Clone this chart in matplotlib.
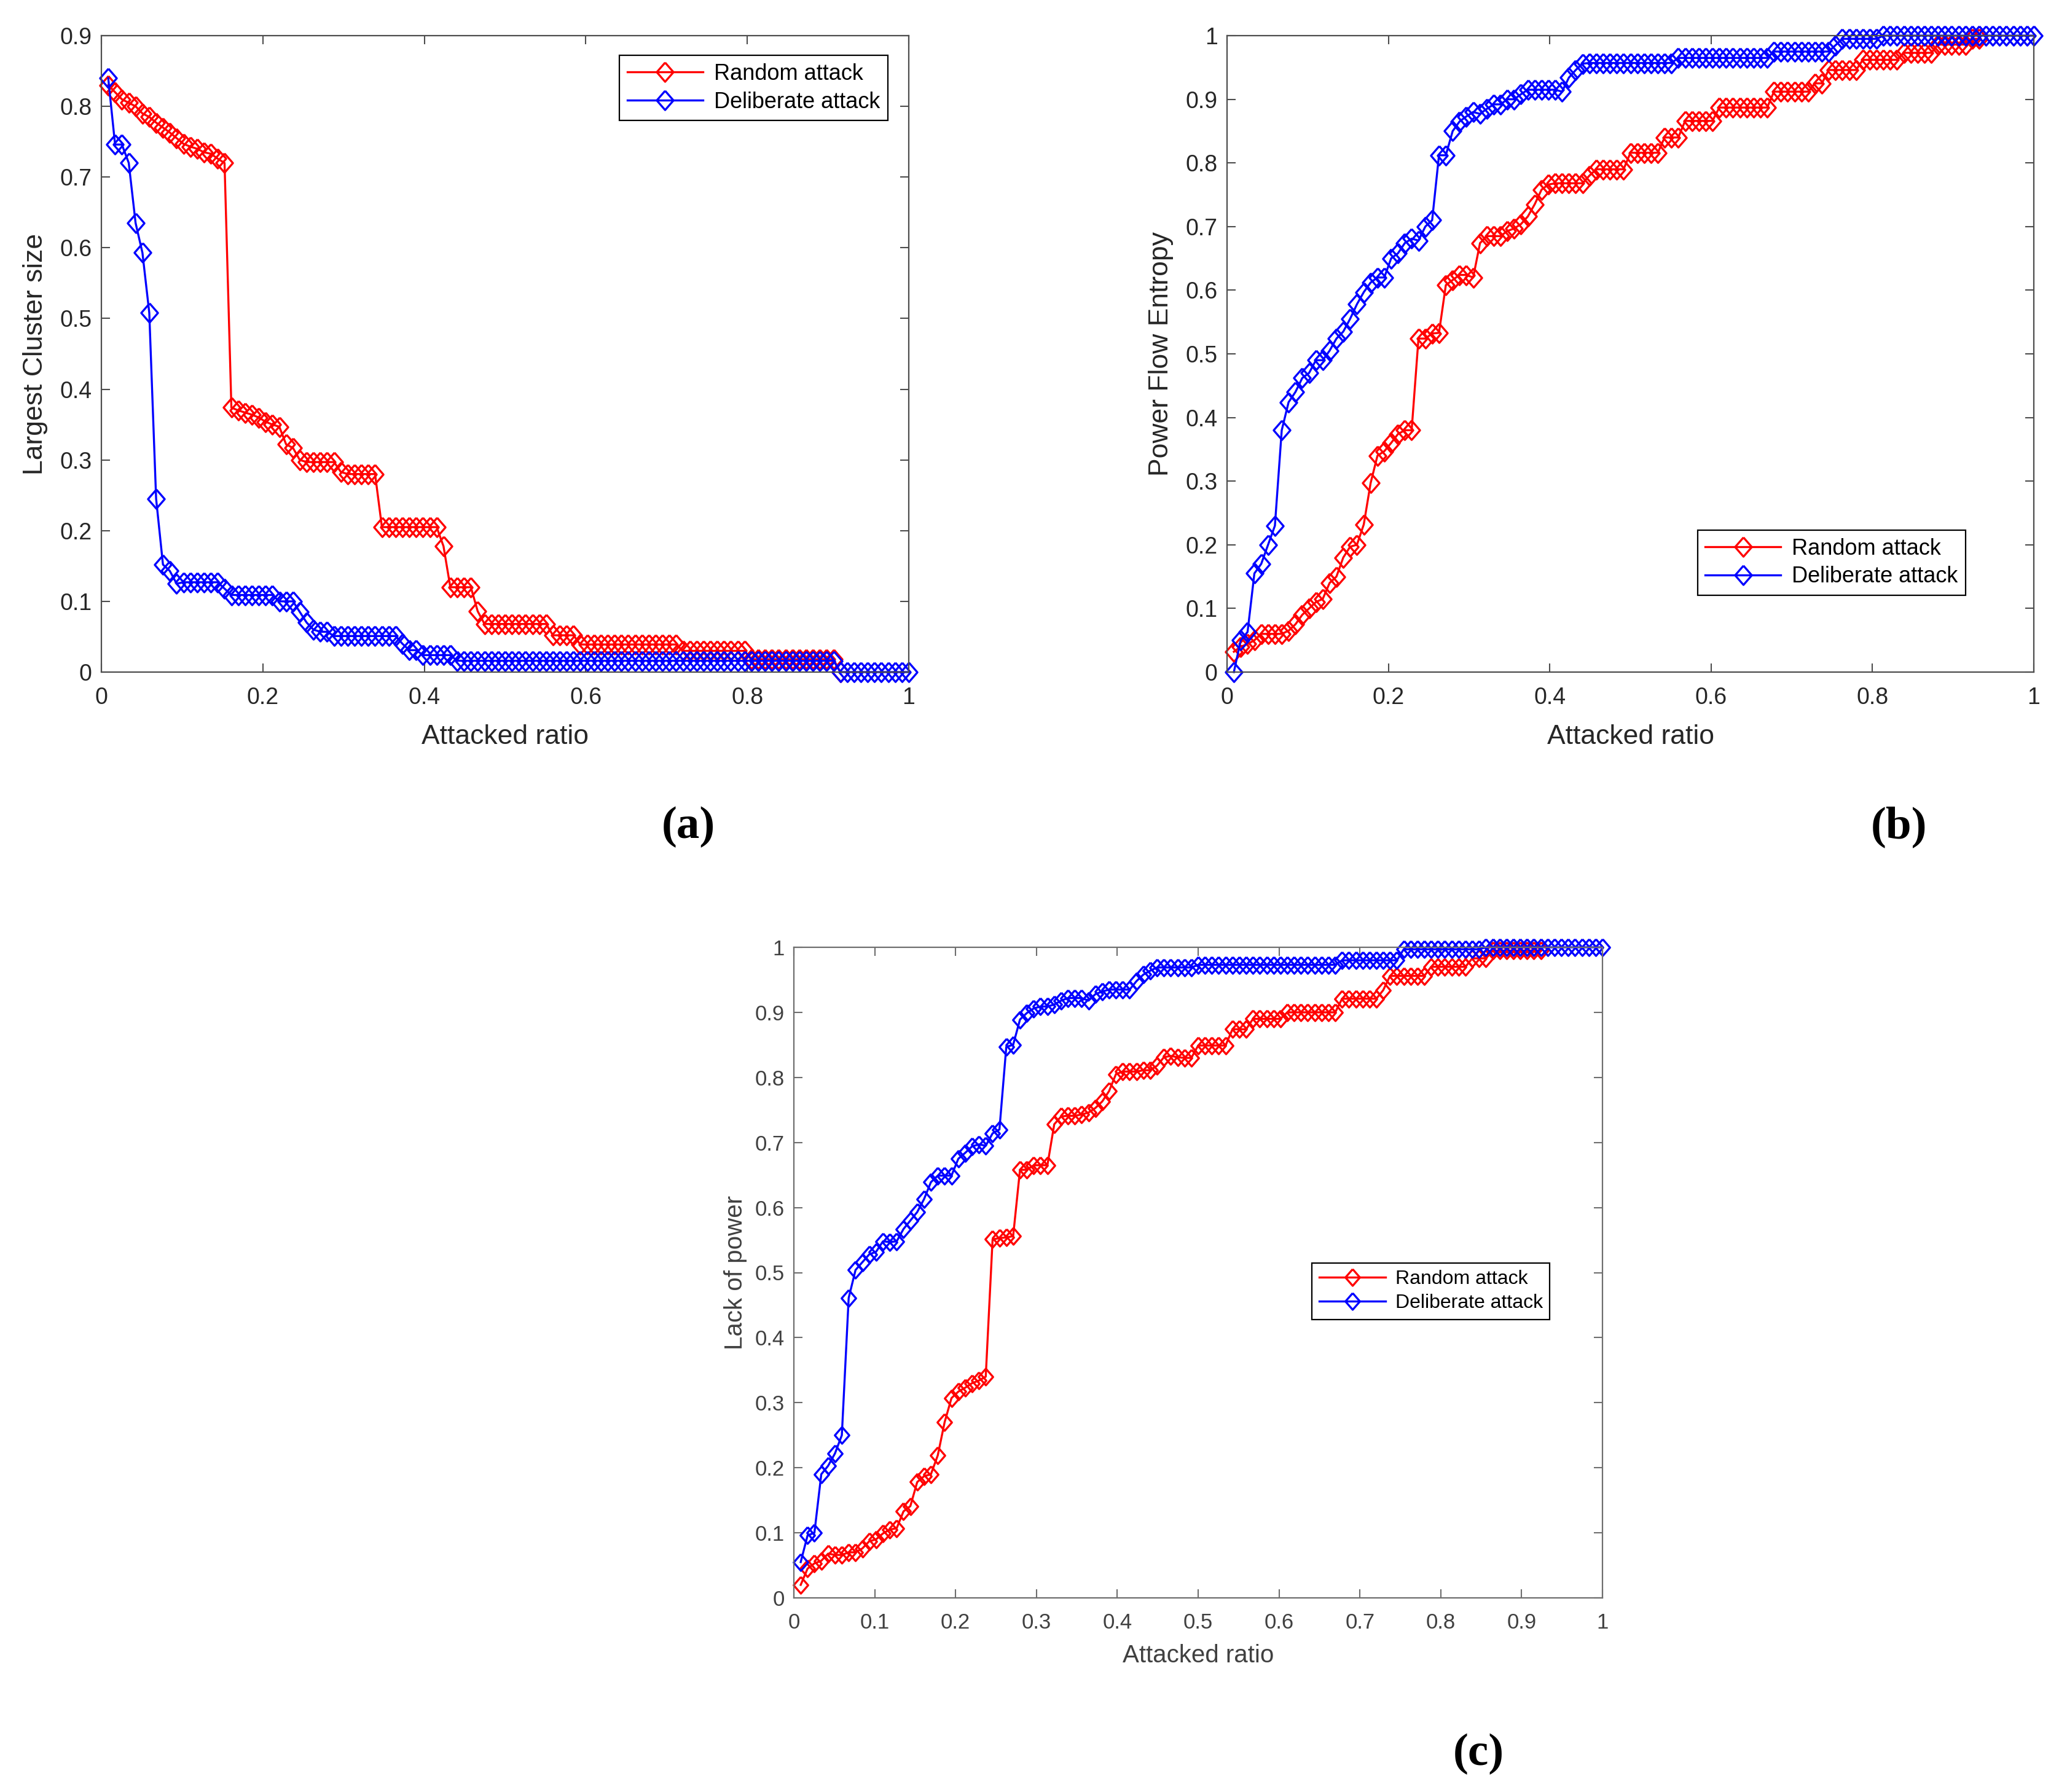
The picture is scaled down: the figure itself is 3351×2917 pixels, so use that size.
import numpy as np
import matplotlib
matplotlib.use("Agg")
import matplotlib.pyplot as plt
from matplotlib.ticker import FormatStrFormatter

plt.rcParams['font.family'] = ['Liberation Sans', 'DejaVu Sans']

# attacked ratio = k / n_bus (IEEE 118-bus system)
n_bus = 118

# (a) Largest cluster size
lcs_random = [
    0.83, 0.82, 0.81, 0.805, 0.80, 0.79, 0.785, 0.777, 0.77, 0.763,
    0.755, 0.747, 0.743, 0.74, 0.735, 0.733, 0.726, 0.72, 0.374, 0.37,
    0.367, 0.364, 0.36, 0.354, 0.35, 0.347, 0.322, 0.317, 0.30, 0.297,
    0.297, 0.297, 0.297, 0.297, 0.283, 0.28, 0.28, 0.28, 0.28, 0.28,
    0.205, 0.205, 0.205, 0.205, 0.205, 0.205, 0.205, 0.205, 0.205, 0.178,
    0.12, 0.12, 0.12, 0.12, 0.086, 0.068, 0.068, 0.068, 0.068, 0.068,
    0.068, 0.068, 0.068, 0.068, 0.068, 0.052, 0.052, 0.052, 0.052, 0.039,
    0.039, 0.039, 0.039, 0.039, 0.039, 0.039, 0.039, 0.039, 0.039, 0.039,
    0.039, 0.039, 0.039, 0.039, 0.03, 0.03, 0.03, 0.03, 0.03, 0.03,
    0.03, 0.03, 0.03, 0.03, 0.018, 0.018, 0.018, 0.018, 0.018, 0.018,
    0.018, 0.018, 0.018, 0.018, 0.018, 0.018, 0.018, 0.0,
]
lcs_deliberate = [
    0.84, 0.746, 0.746, 0.72, 0.635, 0.593, 0.508, 0.245, 0.152, 0.143,
    0.125, 0.127, 0.127, 0.127, 0.127, 0.127, 0.127, 0.118, 0.109, 0.109,
    0.109, 0.109, 0.109, 0.109, 0.109, 0.10, 0.10, 0.10, 0.085, 0.07,
    0.06, 0.057, 0.057, 0.051, 0.051, 0.051, 0.051, 0.051, 0.051, 0.051,
    0.051, 0.051, 0.051, 0.04, 0.031, 0.031, 0.024, 0.024, 0.024, 0.024,
    0.024, 0.016, 0.016, 0.016, 0.016, 0.016, 0.016, 0.016, 0.016, 0.016,
    0.016, 0.016, 0.016, 0.016, 0.016, 0.016, 0.016, 0.016, 0.016, 0.016,
    0.016, 0.016, 0.016, 0.016, 0.016, 0.016, 0.016, 0.016, 0.016, 0.016,
    0.016, 0.016, 0.016, 0.016, 0.016, 0.016, 0.016, 0.016, 0.016, 0.016,
    0.016, 0.016, 0.016, 0.016, 0.016, 0.016, 0.016, 0.016, 0.016, 0.016,
    0.016, 0.016, 0.016, 0.016, 0.016, 0.016, 0.016, 0.0, 0.0, 0.0,
    0.0, 0.0, 0.0, 0.0, 0.0, 0.0, 0.0, 0.0,
]

# (b) Power flow entropy
pfe_random = [
    0.032, 0.04, 0.044, 0.05, 0.06, 0.06, 0.06, 0.06, 0.065, 0.075,
    0.09, 0.10, 0.11, 0.115, 0.14, 0.15, 0.18, 0.197, 0.20, 0.232,
    0.297, 0.34, 0.347, 0.36, 0.374, 0.38, 0.38, 0.524, 0.524, 0.532,
    0.533, 0.608, 0.616, 0.624, 0.624, 0.62, 0.674, 0.685, 0.685, 0.685,
    0.693, 0.697, 0.704, 0.716, 0.735, 0.758, 0.766, 0.768, 0.768, 0.768,
    0.768, 0.768, 0.78, 0.79, 0.79, 0.79, 0.79, 0.79, 0.816, 0.816,
    0.816, 0.816, 0.816, 0.84, 0.84, 0.84, 0.866, 0.866, 0.866, 0.866,
    0.866, 0.887, 0.887, 0.887, 0.887, 0.887, 0.887, 0.887, 0.887, 0.912,
    0.912, 0.912, 0.912, 0.912, 0.912, 0.925, 0.925, 0.946, 0.946, 0.946,
    0.946, 0.946, 0.962, 0.962, 0.962, 0.962, 0.962, 0.962, 0.973, 0.973,
    0.973, 0.973, 0.973, 0.986, 0.986, 0.986, 0.986, 0.986, 0.995, 0.995,
]
pfe_deliberate = [
    0.0, 0.05, 0.063, 0.155, 0.17, 0.20, 0.23, 0.38, 0.424, 0.44,
    0.462, 0.47, 0.49, 0.49, 0.505, 0.524, 0.535, 0.555, 0.578, 0.597,
    0.612, 0.62, 0.62, 0.65, 0.658, 0.674, 0.681, 0.678, 0.70, 0.71,
    0.812, 0.812, 0.85, 0.865, 0.873, 0.88, 0.877, 0.885, 0.892, 0.892,
    0.90, 0.90, 0.908, 0.915, 0.915, 0.915, 0.915, 0.915, 0.912, 0.934,
    0.946, 0.956, 0.957, 0.957, 0.957, 0.957, 0.957, 0.957, 0.957, 0.957,
    0.957, 0.957, 0.957, 0.957, 0.957, 0.965, 0.965, 0.965, 0.965, 0.965,
    0.965, 0.965, 0.965, 0.965, 0.965, 0.965, 0.965, 0.965, 0.965, 0.975,
    0.975, 0.975, 0.975, 0.975, 0.975, 0.975, 0.975, 0.975, 0.985, 0.995,
    0.995, 0.995, 0.995, 0.995, 0.995, 1.0, 1.0, 1.0, 1.0, 1.0,
    1.0, 1.0, 1.0, 1.0, 1.0, 1.0, 1.0, 1.0, 1.0, 1.0,
    1.0, 1.0, 1.0, 1.0, 1.0, 1.0, 1.0, 1.0,
]

# (c) Lack of power
lop_random = [
    0.02, 0.045, 0.053, 0.057, 0.068, 0.066, 0.066, 0.07, 0.07, 0.076,
    0.087, 0.09, 0.099, 0.105, 0.107, 0.133, 0.141, 0.178, 0.187, 0.19,
    0.219, 0.27, 0.307, 0.317, 0.323, 0.33, 0.334, 0.34, 0.551, 0.553,
    0.554, 0.556, 0.658, 0.658, 0.665, 0.665, 0.665, 0.728, 0.74, 0.741,
    0.741, 0.743, 0.746, 0.753, 0.763, 0.779, 0.805, 0.809, 0.809, 0.809,
    0.811, 0.811, 0.818, 0.831, 0.833, 0.831, 0.83, 0.83, 0.849, 0.849,
    0.849, 0.849, 0.849, 0.874, 0.874, 0.874, 0.89, 0.89, 0.89, 0.89,
    0.89, 0.90, 0.90, 0.90, 0.90, 0.90, 0.90, 0.90, 0.90, 0.921,
    0.921, 0.921, 0.921, 0.921, 0.921, 0.934, 0.956, 0.956, 0.956, 0.956,
    0.956, 0.956, 0.97, 0.97, 0.97, 0.97, 0.97, 0.97, 0.983, 0.983,
    0.983, 0.995, 0.995, 0.995, 0.995, 0.995, 0.995, 0.995, 0.995,
]
lop_deliberate = [
    0.055, 0.096, 0.10, 0.19, 0.203, 0.222, 0.25, 0.461, 0.504, 0.516,
    0.528, 0.532, 0.548, 0.547, 0.548, 0.567, 0.58, 0.593, 0.613, 0.639,
    0.649, 0.649, 0.649, 0.675, 0.684, 0.694, 0.697, 0.695, 0.714, 0.72,
    0.847, 0.85, 0.889, 0.899, 0.906, 0.909, 0.909, 0.912, 0.918, 0.922,
    0.922, 0.922, 0.918, 0.928, 0.932, 0.935, 0.935, 0.935, 0.935, 0.948,
    0.958, 0.964, 0.969, 0.969, 0.969, 0.969, 0.969, 0.969, 0.973, 0.973,
    0.973, 0.973, 0.973, 0.973, 0.973, 0.973, 0.973, 0.973, 0.973, 0.973,
    0.973, 0.973, 0.973, 0.973, 0.973, 0.973, 0.973, 0.973, 0.973, 0.98,
    0.98, 0.98, 0.98, 0.98, 0.98, 0.98, 0.98, 0.98, 0.997, 0.997,
    0.997, 0.997, 0.997, 0.997, 0.997, 0.997, 0.997, 0.997, 0.997, 0.997,
    1.0, 1.0, 1.0, 1.0, 1.0, 1.0, 1.0, 1.0, 1.0, 1.0,
    1.0, 1.0, 1.0, 1.0, 1.0, 1.0, 1.0, 1.0,
]

series_names = ["Random attack", "Deliberate attack"]
xticks_ab = [0, 0.2, 0.4, 0.6, 0.8, 1]
xticks_c = [0, 0.1, 0.2, 0.3, 0.4, 0.5, 0.6, 0.7, 0.8, 0.9, 1]
yticks_a = [0, 0.1, 0.2, 0.3, 0.4, 0.5, 0.6, 0.7, 0.8, 0.9]
yticks_bc = [0, 0.1, 0.2, 0.3, 0.4, 0.5, 0.6, 0.7, 0.8, 0.9, 1]

# MATLAB-like diamond (a bit narrower than tall)
diamond = [(0, 1), (0.87, 0), (0, -1), (-0.87, 0), (0, 1)]


def draw_panel(ax, red, blue, ylabel, xticks, yticks, ylim, leg_anchor,
               ms, tick_fs, label_fs, leg_fs, xpad, ypad, spcol, txtcol):
    for vals, col in ((red, "#ff0000"), (blue, "#0000ff")):
        x = np.arange(1, len(vals) + 1) / n_bus
        ax.plot(x, vals, color=col, lw=2.4, marker=diamond, ms=ms, mfc="none",
                mec=col, mew=2.4, clip_on=False)
    ax.set_xlim(0, 1)
    ax.set_ylim(*ylim)
    ax.set_xticks(xticks)
    ax.set_yticks(yticks)
    ax.xaxis.set_major_formatter(FormatStrFormatter("%g"))
    ax.yaxis.set_major_formatter(FormatStrFormatter("%g"))
    ax.tick_params(direction="in", top=True, right=True, length=10,
                   width=1.5, labelsize=tick_fs, color=spcol, labelcolor=txtcol)
    ax.tick_params(axis="x", pad=17)
    ax.tick_params(axis="y", pad=11)
    for sp in ax.spines.values():
        sp.set_color(spcol)
        sp.set_linewidth(1.6)
    ax.set_xlabel("Attacked ratio", fontsize=label_fs, color=txtcol, labelpad=xpad)
    ax.set_ylabel(ylabel, fontsize=label_fs, color=txtcol, labelpad=ypad)
    leg = ax.legend(series_names, loc="upper right", bbox_to_anchor=leg_anchor,
                    borderaxespad=0, fontsize=leg_fs, numpoints=1,
                    handlelength=3.4, handletextpad=0.5, labelspacing=0.3,
                    borderpad=0.35, fancybox=False, framealpha=1)
    leg.get_frame().set_edgecolor("black")
    leg.get_frame().set_linewidth(1.6)


fig = plt.figure(figsize=(33.51, 29.17), dpi=100)
W, H = 3351, 2917

ax_a = fig.add_axes([165 / W, 1 - 1094 / H, 1314 / W, 1036 / H])
ax_b = fig.add_axes([1997 / W, 1 - 1094 / H, 1313 / W, 1036 / H])
ax_c = fig.add_axes([1292 / W, 1 - 2601 / H, 1316 / W, 1059 / H])

draw_panel(ax_a, lcs_random, lcs_deliberate, "Largest Cluster size",
           xticks_ab, yticks_a, (0, 0.9), (0.974, 0.969),
           22.5, 27, 32, 26, 18, 14, "#4d4d4d", "#262626")
draw_panel(ax_b, pfe_random, pfe_deliberate, "Power Flow Entropy",
           xticks_ab, yticks_bc, (0, 1), (0.9155, 0.223),
           22.5, 27, 32, 26, 18, 14, "#4d4d4d", "#262626")
draw_panel(ax_c, lop_random, lop_deliberate, "Lack of power",
           xticks_c, yticks_bc, (0, 1), (0.935, 0.515),
           19.5, 25, 29, 23, 13, 9, "#6e6e6e", "#404040")

for txt, px, py in (("(a)", 1120, 1346), ("(b)", 3090, 1346), ("(c)", 2406, 2855)):
    fig.text(px / W, 1 - py / H, txt, ha="center", va="center",
             fontsize=54, fontweight="bold", family=["Liberation Serif", "DejaVu Serif"])

fig.savefig("out.png", dpi=100, facecolor="white")
